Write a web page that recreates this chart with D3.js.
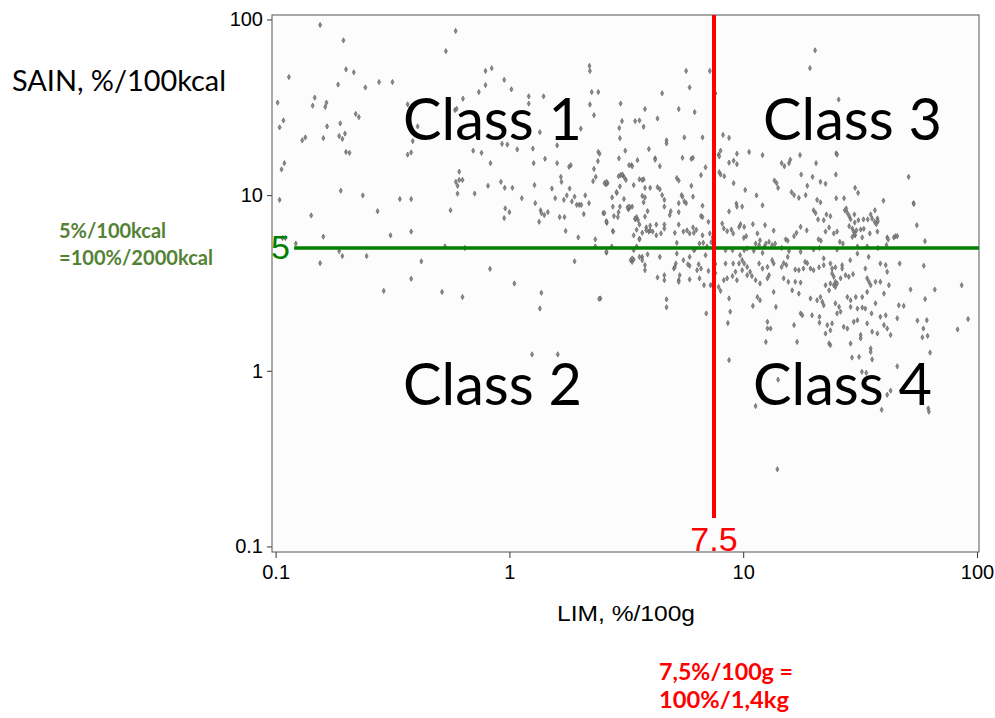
<!DOCTYPE html>
<html><head><meta charset="utf-8">
<script src="https://cdn.jsdelivr.net/npm/d3@7"></script>
<style>body{margin:0;background:#fff}svg{display:block}</style>
</head><body>
<svg id="c" width="995" height="718"></svg>
<script>
// ---------- data ----------
const xMajorTicks = [0.1, 1, 10, 100];
const yMajorTicks = [0.1, 1, 10, 100];
const xDomain = [0.0965, 102];
const yDomain = [0.093, 106];
const limThreshold = 7.5;   // %/100g
const sainThreshold = 5;    // %/100kcal
const classLabels = ["Class 1", "Class 2", "Class 3", "Class 4"];
const xTitle = "LIM, %/100g";
const yTitle = "SAIN, %/100kcal";
const greenNote = ["5%/100kcal", "=100%/2000kcal"];
const redNote = ["7,5%/100g =", "100%/1,4kg"];

// [LIM, SAIN]
const points = [
[0.155,93],[0.589,86],[0.535,66],[0.195,76],[0.114,47],[0.2,52],[0.216,50],[0.185,42.6],[0.242,41],[0.277,44],[0.316,44],[0.102,33.6],[0.147,35.9],[0.144,32.3],[0.165,33.6],[0.163,31.8],[0.104,24.3],[0.108,26.6],[0.166,24.6],[0.189,25.6],[0.22,29],[0.227,27.8],[0.13,20.5],[0.134,21.3],[0.16,21.1],[0.187,21.7],[0.193,20.9],[0.198,22.4],[0.2,17.6],[0.207,17.4],[0.106,14],[0.109,15.2],[0.19,10.6],[0.104,9.4],[0.236,9.96],[0.142,7.66],[0.273,8.1],[0.107,5.7],[0.11,5.7],[0.122,5.3],[0.16,5.8],[0.187,4.8],[0.193,4.5],[0.245,4.5],[0.155,4.1],[0.31,5.9],[0.38,6.2],[0.34,9.5],[0.38,9.5],[0.42,4.2],[0.38,3.34],[0.53,5.1],[0.645,5.0],[0.826,3.8],[0.56,8.2],[0.367,17],[0.38,17.5],[0.386,20.3],[0.405,24.6],[0.367,32.9],[0.585,30.5],[0.595,31],[0.633,35.4],[0.59,11.9],[0.6,11.3],[0.61,12.2],[0.63,12.2],[0.6,10.2],[0.61,13.6],[0.71,10.2],[0.70,17.9],[0.76,17.4],[0.83,15.2],[0.92,11.9],[0.955,11.0],[1.03,11.0],[1.13,9.6],[0.96,8.4],[1.0,8.0],[0.95,7.4],[0.81,11.3],[0.74,38.6],[0.79,42.3],[0.79,50.9],[0.84,52.8],[0.95,45.3],[1.02,40],[0.93,19.6],[0.98,19.4],[1.08,18.2],[1.21,36.5],[1.21,33.2],[1.40,36.5],[1.35,22.8],[1.26,18.4],[1.27,15.2],[1.42,16.1],[1.60,19.2],[1.60,15.2],[1.28,11.4],[1.29,9.0],[1.52,10.9],[1.57,9.6],[1.66,12.7],[1.67,11.9],[1.36,8.2],[1.37,7.9],[1.41,7.7],[1.46,8.0],[1.34,7.05],[1.64,7.5],[1.72,7.5],[1.81,10.9],[1.83,14.8],[1.80,14.5],[1.74,6.25],[1.71,9.4],[1.76,9.96],[1.85,9.2],[1.90,9.8],[1.94,8.8],[1.99,8.8],[2.03,8.8],[2.08,7.8],[2.11,9.96],[2.19,9.0],[1.97,5.75],[1.90,4.2],[2.33,5.6],[2.33,5.1],[2.74,5.1],[2.6,4.7],[2.2,54.4],[2.21,50.9],[2.25,38.6],[2.40,38.6],[2.21,32.8],[2.30,28.5],[2.02,23.9],[2.40,17.6],[2.43,17.2],[2.39,15.6],[2.30,14.1],[2.34,12.7],[2.28,12.0],[2.52,7.9],[2.59,11.5],[2.63,11.7],[2.75,9.7],[2.77,8.6],[2.88,10.3],[2.97,8.6],[2.93,8.0],[2.91,7.5],[2.80,7.6],[2.77,6.25],[2.61,6.95],[2.95,24.1],[2.97,21.1],[2.99,33.2],[3.03,26.4],[2.94,16.2],[2.99,13.0],[3.05,13.0],[3.13,17.9],[3.09,9.5],[3.23,8.3],[3.27,8.5],[3.33,14.8],[3.53,15.8],
[5.7,50.9],[5.9,41],[7.2,50.9],[7.6,38],[4.5,38],[5.3,30.9],[6.2,29.7],[4.3,27.3],[3.8,30.9],[3.75,24.5],[5.6,21.3],[6.7,21.3],[4.7,20.5],[4.7,19.7],[3.95,18.3],[5.5,16.3],[6.0,16.1],[6.1,16.3],[7.85,17],[4.2,16.2],[4.2,15.9],[6.9,14.4],[6.6,13.0],[8,13.1],[5.2,12.5],[5.3,12.1],[4.4,14.6],[6.0,11.3],[3.75,12.3],[3.8,11.0],[4.3,11.1],[4.4,10.8],[3.8,9.7],[4.5,10],[4.6,9.4],[4.6,8.6],[5.45,10],[5.5,9.8],[5.6,9.2],[5.7,9.0],[6.1,9.8],[6.7,8.7],[5.3,9.0],[5.3,8.0],[4.9,8.1],[4.85,7.7],[4.25,6.8],[5.3,6.8],[6.1,6.55],[6.6,7.6],[6.7,7.5],[7.1,7.05],[4.6,6.8],[4.6,6.45],[4.45,6.05],[4.0,6.7],[3.85,6.55],[3.95,6.2],[4.0,6.3],[5.1,6.1],[5.55,6.2],[5.75,6.3],[5.9,6.05],[6.15,6.1],[6.3,6.35],[6.7,5.9],[7.2,6.05],[7.4,5.75],[7.3,5.4],[5.2,5.35],[6.75,5.35],[6.2,4.9],[5.2,4.65],[7.5,4.65],[3.9,4.6],[3.7,4.45],[4.4,4.45],
[2.55,11.7],[2.6,11.9],[2.87,10.4],[2.97,11.2],[2.93,12.8],[3.04,13.1],[3.1,12.6],[3.15,12.2],[3.2,8.5],[3.25,8.6],[2.55,7.9],[2.6,7.1],[2.78,6.2],[3.25,14.8],[3.45,26.4],[3.6,26.6],[3.6,12.3],[3.7,12.2],[3.35,14.6],[3.4,11.4],[3.5,7.5],[3.45,7.3],[3.6,6.8],[3.5,6.35],[3.4,5.9],[3.6,5.65],[3.7,6.1],[3.85,6.3],[4.1,6.2],[4.25,5.9],[3.8,7.55],[3.75,9.1],[3.9,8.1],[3.7,9.9],[4.0,11.0],
[20.3,66.7],[19.3,52.8],[25.6,35],[7.55,37.5],[8.2,22],[8.7,21.2],[10.6,17.6],[12.1,16.9],[9.4,17.2],[9.1,15.7],[9.4,15],[8.7,15.3],[8.0,17.9],[7.9,16.6],[17.5,16.9],[14.6,15.2],[15,14.6],[15.7,15.2],[15.9,15.9],[20.5,15.2],[25,17.3],[25.2,17],[24.9,13.1],[51,12.7],[17.7,13.1],[19.8,12.7],[13.6,12.1],[13.9,11.7],[8.3,12.8],[7.9,13.5],[9.1,11.7],[14.1,11.0],[18.8,11.3],[21.4,11.9],[22.5,11.6],[30.1,11],[31,10.3],[39.8,9.3],[53.5,9.0],[10.2,10.7],[11.4,9.96],[16.1,10.4],[16.5,10],[17.3,9.65],[18.5,10],[20.7,9.4],[21.4,9.1],[25,9.6],[27,9.6],
[53.7,8.9],[36.6,8.2],[35.1,7.76],[35.6,7.36],[37.5,7.36],[36.5,7.04],[37.7,7.1],[37.1,6.83],[34.1,7.27],[32.7,7.27],[28.4,7.59],[28.8,7.29],[27.9,7.92],[27.2,8.2],[27.6,8.39],[29.9,7.76],[31.1,7.2],[30,6.98],[30.5,6.3],[28.4,6.66],[29.3,6.45],[29.7,6.19],[30.1,5.9],[29.3,5.78],[31.8,6.37],[32.8,6.43],[32.3,5.74],[34.8,6.05],[30,6.0],[41.3,5.74],[41.7,5.59],[44.1,5.74],[44.8,5.84],[45.6,5.84],[59.9,5.47],[55.3,6.74],[37.5,6.2],[25.9,5.42],[26.7,5.3],[25.2,6.2],[24.4,6.05],[21,5.6],[21.5,5.5],[22.5,6.2],[23.3,6.54],[22.1,7.2],[23.6,7.59],[22.7,7.76],[20.9,7.27],[20,8.2],[20.4,7.9],[18.7,6.3],[17.6,6.6],[16.9,6.1],[15.2,5.6],[15.5,5.5],[16.5,5.84],[14.6,5.0],[15.7,4.8],[21.2,5.0],[25.2,4.9],[30.8,5.1],[33.9,5.1],[37.7,5.0],[41,5.2],[17.6,4.76],[20,4.9],[15.5,4.45],[14.9,4.1],[15.3,4.0],[14.6,3.9],[18.4,4.17],[18.8,4.1],[18.1,3.82],[17.3,3.74],[16.7,3.77],[19.4,3.82],[20,3.74],[21.1,3.88],[22.1,4.36],[22.1,3.99],[23.6,4.08],[24.0,3.82],[24.8,3.88],[26.5,3.99],[26.5,3.82],[28.7,4.26],[30.8,4.65],[34.4,4.45],[33.3,3.82],[38.6,4.08],[40.7,4.0],[41.3,3.66],[46.7,4.08],[59.2,3.96],[24,3.58],[24.4,3.43],[24.8,3.21],[26.1,3.36],[27.4,3.5],[28.3,3.43],[29.5,3.55],[23.6,3.14],[24.4,3.07],[24.8,3.0],[25.2,3.14],[23.3,2.87],[22.5,3.07],[33.9,3.36],[34.5,3.21],[35.1,3.07],[36.8,3.21],[38.6,3.21],[42,3.07],[40,2.75],[52,2.9],[66,2.9],[86,3.07],[60,2.56],[14.9,3.36],[15.6,3.21],[16.2,2.87],[17.3,2.75],[16.7,3.21],[17.6,3.18],[19.4,2.58],[21.4,2.63],[21.8,2.47],[22.1,2.36],[20.7,2.52],[24.8,2.42],[25.7,2.31],[26.1,2.17],[25.2,2.12],[27.9,2.63],[28.8,2.52],[30.3,2.63],[32.3,2.63],[33.9,2.81],[28.8,2.31],[30.8,2.26],[32.3,2.29],[33.3,2.26],[35.4,2.12],[36.8,2.42],[38.6,2.03],[40.7,2.07],[45.6,1.99],[46.3,2.36],[48.6,2.34],[17.6,2.12],[17.9,2.07],[19.7,2.07],[21.2,2.03],[21.2,1.88],[22.9,1.82],[24,1.86],[22.5,1.63],[23.6,1.7],[26.9,1.78],[27.9,1.74],[29.7,1.9],[30.8,1.94],[31.8,1.6],[31.8,1.53],[33.9,1.86],[35.6,1.67],[37.5,1.63],[40,1.82],[41.3,1.74],[42.7,1.6],[16.5,1.82],[17,1.46],[23.3,1.43],[23.6,1.4],[28.8,1.43],[35.1,1.34],[35.1,1.28],[31.3,1.2],[29.2,1.19],[35.6,1.16],[45.6,1.06],[41.3,0.73],[42.7,0.77],[39.1,0.6],[63,1.27],[55.6,1.93],[61,1.94],[59,1.74],[61.5,1.58],[58.4,1.55],[82.6,1.72],[91.6,1.97],[32.2,0.987],[33.6,0.974],[61.9,0.61],[62.3,0.585],
[8.7,1.15],[14.1,0.89],[11.3,0.63],[14,0.275],
[8.7,8.07],[9.35,8.95],[9.9,8.6],[9.4,8.6],[12.1,8.75],[8.13,6.89],[8.26,6.46],[8.54,6.23],[8.9,6.37],[9.06,6.05],[9.61,6.59],[9.74,6.83],[10.1,6.59],[11.0,6.83],[10.3,5.84],[10.06,5.71],[11.5,6.05],[11.8,5.53],[12.4,6.75],[13.5,6.28],[11.3,5.3],[11.7,5.19],[12.3,5.07],[12.5,5.3],[12.9,5.42],[13.3,5.19],[13.7,5.3],[8.4,4.86],[9.0,4.86],[10.1,4.86],[10.4,4.97],[11.1,4.82],[12.1,4.69],[9.7,4.55],[9.9,4.26],[10.1,4.08],[9.6,4.08],[8.4,4.08],[9.06,4.08],[9.27,3.66],[9.9,3.74],[10.4,3.9],[10.7,3.66],[11.7,4.08],[12.1,3.82],[12.7,3.9],[13.3,4.26],[13.5,4.08],[8.26,3.28],[8.54,3.36],[9.0,3.46],[9.4,3.28],[10.4,3.5],[10.9,3.46],[11.3,3.28],[11.8,3.14],[12.7,3.36],[12.9,3.5],[13.5,2.81],[11.5,2.63],[11.8,2.52],[11.0,2.34],[7.85,3.0],[8.0,2.85],[8.7,2.58],[8.8,2.17],[8.6,1.87],[12.7,1.9],[13.8,2.31],[12.7,1.74],[13.1,1.74],[12.5,1.46],
[3.35,4.17],[3.4,4.3],[3.3,4.26],[3.6,4.45],[3.7,4.26],[3.8,4.0],[3.8,3.74],[4.6,3.5],[4.6,3.28],[4.3,3.4],[5.3,3.28],[5.3,3.21],[5.35,3.5],[5.05,3.82],[5.1,3.9],[5.9,3.31],[6.5,3.36],[7.1,3.7],[6.6,3.82],[6.35,3.74],[6.45,4.04],[5.9,3.96],[6.8,3.07],[7.25,3.07],[4.7,2.55],[4.7,2.3],[6.95,2.12],[2.45,2.58],
[2.6,7.05],[3.45,7.36],[3.55,7.2],[3.35,8.6],[2.6,4.76],[3.35,4.36],[3.5,5.1],[3.6,5.59],
[5.9,4.45],[6.15,4.86],[6.5,5.3],[7.0,5.1],[6.9,4.55],[5.55,4.26],[5.15,4.08],[5.8,4.04],[3.4,4.86],[7.6,4.05],[7.4,3.1],[7.6,3.6],
[0.29,2.85],[0.515,2.81],[0.63,2.63],[1.05,3.14],[1.37,2.78],[1.35,2.26],[2.42,2.57],[1.25,1.24],[1.61,1.24]
];

// ---------- layout ----------
const svg = d3.select("#c");
const L = 272, R = 979, T = 15, B = 552;
const x = d3.scaleLog().domain(xDomain).range([L, R]);
const y = d3.scaleLog().domain(yDomain).range([B, T]);
const ARIAL = "'Liberation Sans', Arial, sans-serif";
const CAL = "Lato, 'Open Sans', sans-serif";

svg.append("rect").attr("x", L).attr("y", T).attr("width", R - L).attr("height", B - T)
  .attr("fill", "#fcfcfc").attr("stroke", "none");

const minor = [];
[0.1, 1, 10].forEach(d => { for (let k = 2; k <= 9; k++) minor.push(+(d * k).toPrecision(3)); });

// x axis
const gx = svg.append("g").attr("transform", `translate(0,${B})`);
gx.call(d3.axisBottom(x).tickValues(minor).tickSize(4).tickFormat(""));
gx.call(d3.axisBottom(x).tickValues(xMajorTicks).tickSize(6).tickPadding(7).tickFormat(d => String(d)));
gx.selectAll(".domain").remove();
gx.selectAll("line").attr("stroke", "#333");
gx.selectAll("text").attr("font-family", ARIAL).attr("font-size", 20).attr("fill", "#000");

// y axis
const gy = svg.append("g").attr("transform", `translate(${L},0)`);
gy.call(d3.axisLeft(y).tickValues(minor.filter(v => v > yDomain[0] && v < yDomain[1])).tickSize(3).tickFormat(""));
gy.call(d3.axisLeft(y).tickValues(yMajorTicks).tickSize(5).tickPadding(4).tickFormat(d => String(d)));
gy.selectAll(".domain").remove();
gy.selectAll("line").attr("stroke", "#333");
gy.selectAll("text").attr("font-family", ARIAL).attr("font-size", 20).attr("fill", "#000");

// points
const sym = d3.symbol().type(d3.symbolDiamond).size(8);
svg.append("g").selectAll("path").data(points).join("path")
  .attr("d", sym)
  .attr("transform", d => `translate(${x(d[0])},${y(d[1])})`)
  .attr("fill", "#8c8c8c").attr("stroke", "#555").attr("stroke-width", 0.6);

// frame
svg.append("rect").attr("x", L).attr("y", T).attr("width", R - L).attr("height", B - T)
  .attr("fill", "none").attr("stroke", "#555").attr("stroke-width", 1);

// threshold lines
svg.append("line").attr("x1", x(0.12)).attr("x2", R).attr("y1", y(sainThreshold)).attr("y2", y(sainThreshold))
  .attr("stroke", "#008000").attr("stroke-width", 3.5);
svg.append("line").attr("x1", x(limThreshold)).attr("x2", x(limThreshold)).attr("y1", T).attr("y2", y(0.145))
  .attr("stroke", "#ff0000").attr("stroke-width", 4);

svg.append("text").attr("x", L - 1).attr("y", y(sainThreshold) + 11).text(String(sainThreshold))
  .attr("font-family", ARIAL).attr("font-size", 34).attr("fill", "#008000");
svg.append("text").attr("x", x(limThreshold)).attr("y", B - 1).attr("text-anchor", "middle").text("7.5")
  .attr("font-family", ARIAL).attr("font-size", 34).attr("fill", "#ff0000");

// class labels
const classPos = [[403, 140], [403, 405], [763, 140], [753, 405]];
classLabels.forEach((t, i) => {
  svg.append("text").attr("x", classPos[i][0]).attr("y", classPos[i][1]).text(t)
    .attr("font-family", CAL).attr("font-size", 58).attr("fill", "#000")
    .attr("textLength", 179).attr("lengthAdjust", "spacingAndGlyphs");
});

// axis titles
svg.append("text").attr("x", 12).attr("y", 91).text(yTitle)
  .attr("font-family", CAL).attr("font-size", 29).attr("fill", "#000")
  .attr("textLength", 214).attr("lengthAdjust", "spacingAndGlyphs");
svg.append("text").attr("x", 557).attr("y", 621).text(xTitle)
  .attr("font-family", ARIAL).attr("font-size", 22).attr("fill", "#000")
  .attr("textLength", 138).attr("lengthAdjust", "spacingAndGlyphs");

// notes
[[greenNote[0], 238, 107], [greenNote[1], 265, 154]].forEach(([t, yy, w]) => {
  svg.append("text").attr("x", 59).attr("y", yy).text(t)
    .attr("font-family", CAL).attr("font-weight", "bold").attr("font-size", 20).attr("fill", "#548235")
    .attr("textLength", w).attr("lengthAdjust", "spacingAndGlyphs");
});
[[redNote[0], 680, 134], [redNote[1], 708, 130]].forEach(([t, yy, w]) => {
  svg.append("text").attr("x", 659).attr("y", yy).text(t)
    .attr("font-family", CAL).attr("font-weight", "bold").attr("font-size", 23).attr("fill", "#ff0000")
    .attr("textLength", w).attr("lengthAdjust", "spacingAndGlyphs");
});
</script>
</body></html>
